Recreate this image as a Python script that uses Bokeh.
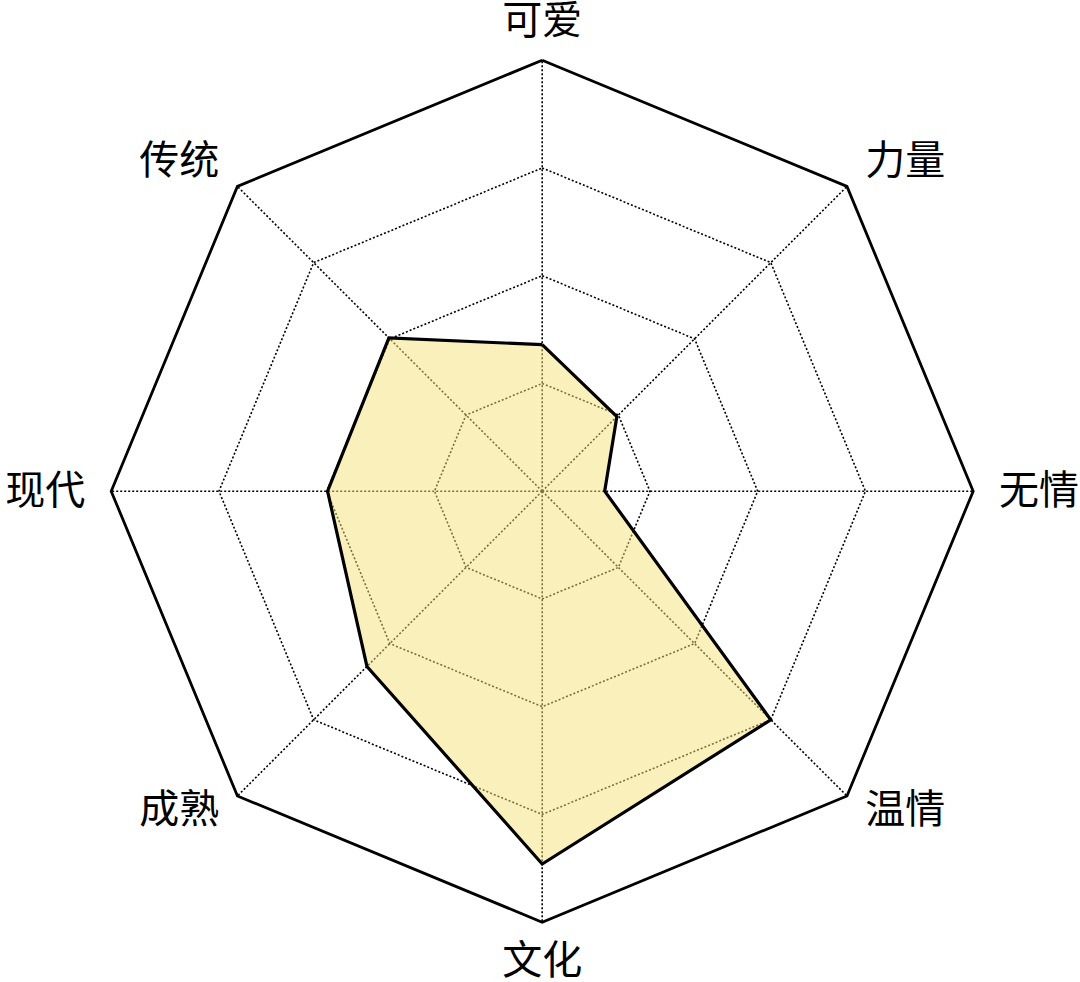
import numpy as np
from bokeh.plotting import figure
from bokeh.models import Range1d, ColumnDataSource
from bokeh.core.properties import value
from bokeh.embed import file_html
from bokeh.resources import INLINE

# ---- data ----
categories = ["可爱", "力量", "无情", "温情", "文化", "成熟", "现代", "传统"]
scores = [34, 24.5, 14.5, 75, 86.5, 57.5, 49.8, 50.3]
max_score = 100
ring_levels = [25, 50, 75]

# ---- geometry ----
n = len(categories)
angles = np.pi / 2 - np.arange(n) * 2 * np.pi / n  # clockwise from top
ca, sa = np.cos(angles), np.sin(angles)

R_PX = 431.0
W, H = 1080, 982
cx_px, cy_px = 541.7, 490.7
p = figure(width=W, height=H, output_backend="svg", toolbar_location=None,
           x_range=Range1d(-cx_px / R_PX, (W - cx_px) / R_PX),
           y_range=Range1d(-(H - cy_px) / R_PX, cy_px / R_PX),
           min_border=0, outline_line_color=None)
p.axis.visible = False
p.grid.visible = False
p.background_fill_color = "white"
p.border_fill_color = "white"

# dotted rings
for lv in ring_levels:
    r = lv / max_score
    p.line(list(r * ca) + [r * ca[0]], list(r * sa) + [r * sa[0]],
           line_color="black", line_width=1.6, line_dash="2 2")
# dotted spokes
for i in range(n):
    p.line([0, ca[i]], [0, sa[i]], line_color="black", line_width=1.6, line_dash="2 2")

# data polygon
rv = np.array(scores) / max_score
xs = list(rv * ca)
ys = list(rv * sa)
p.patch(xs, ys, fill_color=(245, 225, 120), fill_alpha=0.5, line_color=None)
p.line(xs + [xs[0]], ys + [ys[0]], line_color="black", line_width=3.2, line_join="miter")

# outer frame
p.line(list(ca) + [ca[0]], list(sa) + [sa[0]], line_color="black", line_width=2.8,
       line_join="miter")

# labels
lx, ly, aligns, yoffs = [], [], [], []
for i in range(n):
    c, s = ca[i], sa[i]
    vertical = abs(c) < 0.01
    lr = 1.091 if vertical else 1.06
    lx.append(lr * c)
    ly.append(lr * s)
    aligns.append("center" if vertical else ("left" if c > 0 else "right"))
    if 0.01 < s < 0.99:
        yoffs.append(-11)
    elif -0.99 < s < -0.01:
        yoffs.append(-8)
    else:
        yoffs.append(-4)

src = ColumnDataSource(dict(x=lx, y=ly, t=categories, a=aligns, yo=yoffs))
p.text(x="x", y="y", text="t", source=src, text_align="a", text_baseline="middle",
       y_offset="yo", text_font=value("Noto Sans CJK SC"), text_font_size="40px",
       text_color="black")

open("out.html", "w").write(file_html(p, INLINE))
